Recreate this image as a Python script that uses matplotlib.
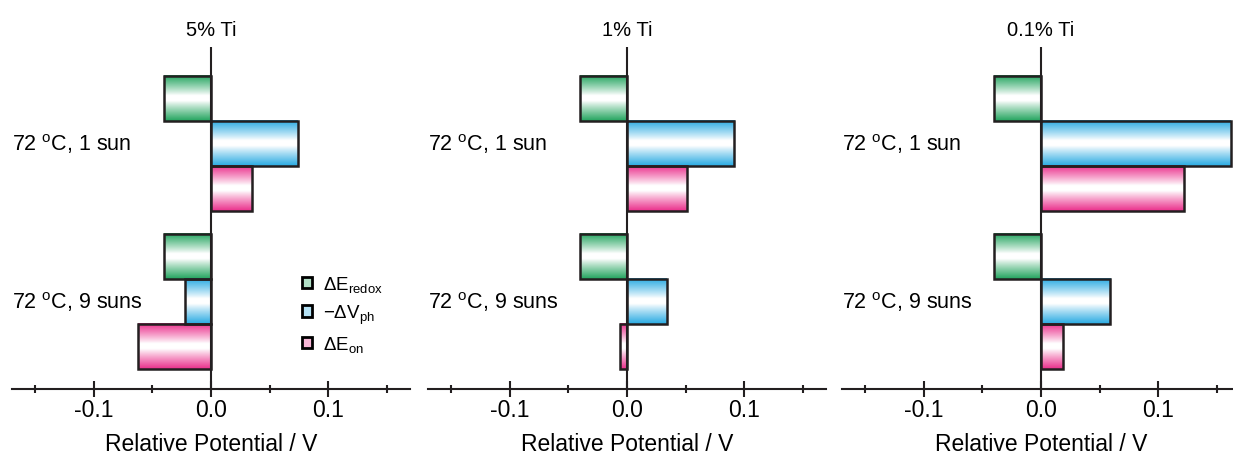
import numpy as np
import matplotlib
matplotlib.use("Agg")
import matplotlib.pyplot as plt
from matplotlib.patches import Patch
from matplotlib.ticker import MultipleLocator

plt.rcParams['font.family'] = ['Liberation Sans', 'DejaVu Sans']
plt.rcParams['mathtext.fontset'] = 'custom'
plt.rcParams['mathtext.rm'] = 'Liberation Sans'
plt.rcParams['mathtext.it'] = 'Liberation Sans:italic'

panels = ["5% Ti", "1% Ti", "0.1% Ti"]
categories = ["72 $^{\\mathrm{o}}$C, 1 sun", "72 $^{\\mathrm{o}}$C, 9 suns"]
series_labels = ["ΔE$_{\\mathrm{redox}}$", "−ΔV$_{\\mathrm{ph}}$", "ΔE$_{\\mathrm{on}}$"]
dE_redox = [[-0.040, -0.040], [-0.040, -0.040], [-0.040, -0.040]]
neg_dVph = [[0.074, -0.022], [0.0915, 0.034], [0.162, 0.059]]
dE_on = [[0.035, -0.062], [0.051, -0.006], [0.122, 0.019]]
colors = ["#22a45e", "#28aae2", "#ea2f8b"]
edge = "#231f20"

fig = plt.figure(figsize=(12.33, 4.56), dpi=100)
lefts = [12/1233, 428/1233, 842/1233]
w = 398/1233
bottom = 1 - 390/456
height = 342/456

t = np.linspace(0, 1, 200)
prof = np.clip((np.abs(2*t - 1) - 0.12) / 0.88, 0, 1) ** 0.9

def grad_img(c):
    rgb = np.array(matplotlib.colors.to_rgb(c))
    img = 1 - prof[:, None] * (1 - rgb[None, :])
    return img[:, None, :]

bh = 0.285
ypos = np.array([1.0, 0.0])
offsets = [bh, 0.0, -bh]

for p in range(3):
    ax = fig.add_axes([lefts[p], bottom, w, height])
    data = [dE_redox[p], neg_dVph[p], dE_on[p]]
    for s in range(3):
        bars = ax.barh(ypos + offsets[s], data[s], height=bh, facecolor='none',
                       edgecolor=edge, linewidth=1.8, zorder=3)
        for b in bars:
            x0, y0 = b.get_x(), b.get_y()
            x1, y1 = x0 + b.get_width(), y0 + b.get_height()
            ax.imshow(grad_img(colors[s]), extent=[min(x0, x1), max(x0, x1), y0, y1],
                      aspect='auto', interpolation='bilinear', zorder=2)
    ax.set_xlim(-0.17, 0.17)
    ax.set_ylim(-0.554, 1.61)
    ax.axvline(0, color=edge, lw=1.5, zorder=4)
    for sp in ['top', 'right', 'left']:
        ax.spines[sp].set_visible(False)
    ax.spines['bottom'].set_linewidth(1.5)
    ax.spines['bottom'].set_color(edge)
    ax.set_yticks([])
    ax.set_xticks([-0.1, 0.0, 0.1])
    ax.set_xticklabels(["-0.1", "0.0", "0.1"])
    ax.xaxis.set_minor_locator(MultipleLocator(0.05))
    ax.tick_params(axis='x', which='major', direction='inout', length=11, width=1.5,
                   labelsize=16.5, pad=1, color=edge)
    ax.tick_params(axis='x', which='minor', direction='inout', length=6, width=1.5, color=edge)
    ax.set_xlabel("Relative Potential / V", fontsize=16.5, labelpad=8)
    ax.set_title(panels[p], fontsize=14.5, pad=9)
    for i, cat in enumerate(categories):
        ax.text(0.0, ypos[i], cat, transform=ax.get_yaxis_transform(),
                ha='left', va='center', fontsize=15.5)
    if p == 0:
        handles = [Patch(facecolor=matplotlib.colors.to_rgba(c, 0.35), edgecolor='black', linewidth=2.0)
                   for c in colors]
        ax.legend(handles, series_labels, loc='upper left', bbox_to_anchor=(0.695, 0.375),
                  frameon=False, fontsize=13.5, handlelength=0.55, handleheight=0.55,
                  handletextpad=0.6, labelspacing=0.45, borderpad=0.2)

fig.savefig("out.png", dpi=100)
